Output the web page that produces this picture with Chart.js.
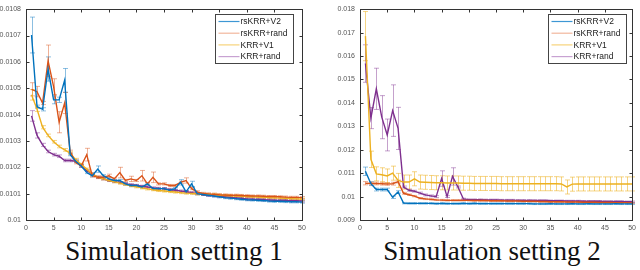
<!DOCTYPE html>
<html>
<head>
<meta charset="utf-8">
<script src="https://cdn.jsdelivr.net/npm/chart.js@4.4.1/dist/chart.umd.min.js"></script>
<style>
  html, body { margin: 0; padding: 0; background: #fff; }
  #wrap { position: relative; width: 640px; height: 270px; overflow: hidden; }
  .panel { position: absolute; top: 0; width: 320px; height: 232px; }
  .caption { position: absolute; top: 236px; font-family: "Liberation Serif", "Times New Roman", serif;
             font-size: 27px; color: #111; white-space: nowrap; transform: translateX(-50%); }
</style>
</head>
<body>
<div id="wrap">
  <div class="panel" style="left:0"><canvas id="c1" width="320" height="232"></canvas></div>
  <div class="panel" style="left:320px"><canvas id="c2" width="320" height="232"></canvas></div>
  <div class="caption" style="left:174px">Simulation setting 1</div>
  <div class="caption" style="left:492px">Simulation setting 2</div>
</div>
<script>
// Eje x común: número de iteración 1..50
const iters = Array.from({ length: 50 }, (_, i) => i + 1);
const xTicks = [0, 5, 10, 15, 20, 25, 30, 35, 40, 45, 50];
const seriesNames = ["rsKRR+V2", "rsKRR+rand", "KRR+V1", "KRR+rand"];

// ---- Simulation setting 1 ----
const yTicks1 = [0.01, 0.0101, 0.0102, 0.0103, 0.0104, 0.0105, 0.0106, 0.0107, 0.0108];
const yLabels1 = ["0.01", "0.0101", "0.0102", "0.0103", "0.0104", "0.0105", "0.0106", "0.0107", "0.0108"];

const rsV2_1 = [0.010702, 0.010430, 0.010420, 0.010573, 0.010456, 0.010456, 0.010530, 0.010248, 0.010223, 0.010205,
  0.010180, 0.010168, 0.010193, 0.010168, 0.010156, 0.010150, 0.010150, 0.010137, 0.010131, 0.010131,
  0.010125, 0.010137, 0.010119, 0.010119, 0.010119, 0.010113, 0.010119, 0.010143, 0.010107, 0.010137,
  0.010100, 0.010097, 0.010094, 0.010091, 0.010088, 0.010085, 0.010083, 0.010081, 0.010079, 0.010077,
  0.010076, 0.010075, 0.010074, 0.010072, 0.010071, 0.010071, 0.010070, 0.010069, 0.010069, 0.010068];
const rsRand_1 = [0.010496, 0.010487, 0.010444, 0.010604, 0.010506, 0.010371, 0.010444, 0.010260, 0.010218, 0.010205,
  0.010248, 0.010168, 0.010162, 0.010162, 0.010168, 0.010156, 0.010180, 0.010150, 0.010156, 0.010150,
  0.010168, 0.010137, 0.010162, 0.010137, 0.010137, 0.010131, 0.010131, 0.010143, 0.010150, 0.010119,
  0.010107, 0.010101, 0.010099, 0.010098, 0.010096, 0.010095, 0.010094, 0.010094, 0.010093, 0.010092,
  0.010091, 0.010091, 0.010090, 0.010089, 0.010089, 0.010088, 0.010087, 0.010086, 0.010086, 0.010085];
const krrV1_1 = [0.010475, 0.010420, 0.010352, 0.010321, 0.010297, 0.010279, 0.010266, 0.010254, 0.010229, 0.010211,
  0.010193, 0.010175, 0.010162, 0.010156, 0.010150, 0.010145, 0.010140, 0.010135, 0.010130, 0.010126,
  0.010122, 0.010118, 0.010115, 0.010112, 0.010110, 0.010108, 0.010106, 0.010104, 0.010102, 0.010101,
  0.010099, 0.010098, 0.010097, 0.010096, 0.010094, 0.010093, 0.010092, 0.010091, 0.010090, 0.010089,
  0.010088, 0.010087, 0.010086, 0.010085, 0.010084, 0.010083, 0.010082, 0.010081, 0.010080, 0.010079];
const krrRand_1 = [0.010395, 0.010321, 0.010285, 0.010260, 0.010248, 0.010242, 0.010226, 0.010226, 0.010223, 0.010205,
  0.010187, 0.010175, 0.010162, 0.010156, 0.010150, 0.010146, 0.010142, 0.010138, 0.010134, 0.010131,
  0.010128, 0.010125, 0.010122, 0.010120, 0.010119, 0.010116, 0.010113, 0.010110, 0.010108, 0.010104,
  0.010100, 0.010097, 0.010094, 0.010092, 0.010090, 0.010088, 0.010086, 0.010084, 0.010082, 0.010080,
  0.010079, 0.010078, 0.010077, 0.010076, 0.010075, 0.010074, 0.010074, 0.010073, 0.010073, 0.010072];

// semianchos de las barras de error
const rsV2Err_1 = [0.000068, 0.000006, 0.000006, 0.000046, 0.000015, 0.000010, 0.000045, 0.000004, 0.000004, 0.000004,
  0.000004, 0.000004, 0.000012, 0.000004, 0.000004, 0.000004, 0.000004, 0.000004, 0.000004, 0.000004,
  0.000004, 0.000004, 0.000004, 0.000004, 0.000004, 0.000004, 0.000004, 0.000010, 0.000004, 0.000010,
  0.000004, 0.000004, 0.000004, 0.000004, 0.000004, 0.000004, 0.000004, 0.000004, 0.000004, 0.000004,
  0.000004, 0.000004, 0.000004, 0.000004, 0.000004, 0.000004, 0.000004, 0.000004, 0.000004, 0.000004];
const rsRandErr_1 = [0.000025, 0.000020, 0.000006, 0.000060, 0.000030, 0.000040, 0.000040, 0.000005, 0.000005, 0.000005,
  0.000024, 0.000005, 0.000005, 0.000005, 0.000006, 0.000004, 0.000020, 0.000004, 0.000010, 0.000004,
  0.000020, 0.000004, 0.000020, 0.000004, 0.000004, 0.000004, 0.000004, 0.000004, 0.000010, 0.000004,
  0.000004, 0.000004, 0.000004, 0.000004, 0.000004, 0.000004, 0.000004, 0.000004, 0.000004, 0.000004,
  0.000004, 0.000004, 0.000004, 0.000004, 0.000004, 0.000004, 0.000004, 0.000004, 0.000004, 0.000004];
const krrV1Err_1 = [0.000020, 0.000008, 0.000006, 0.000005, 0.000005, 0.000005, 0.000005, 0.000005, 0.000005, 0.000004,
  0.000004, 0.000004, 0.000004, 0.000004, 0.000004, 0.000004, 0.000004, 0.000004, 0.000004, 0.000004,
  0.000004, 0.000004, 0.000004, 0.000004, 0.000004, 0.000004, 0.000004, 0.000004, 0.000004, 0.000004,
  0.000004, 0.000004, 0.000004, 0.000004, 0.000004, 0.000004, 0.000004, 0.000004, 0.000004, 0.000004,
  0.000004, 0.000004, 0.000004, 0.000004, 0.000004, 0.000004, 0.000004, 0.000004, 0.000004, 0.000004];
const krrRandErr_1 = [0.000020, 0.000010, 0.000006, 0.000005, 0.000005, 0.000005, 0.000005, 0.000005, 0.000005, 0.000004,
  0.000004, 0.000004, 0.000004, 0.000004, 0.000004, 0.000004, 0.000004, 0.000004, 0.000004, 0.000004,
  0.000004, 0.000004, 0.000004, 0.000004, 0.000004, 0.000004, 0.000004, 0.000004, 0.000004, 0.000004,
  0.000004, 0.000004, 0.000004, 0.000004, 0.000004, 0.000004, 0.000004, 0.000004, 0.000004, 0.000004,
  0.000004, 0.000004, 0.000004, 0.000004, 0.000004, 0.000004, 0.000004, 0.000004, 0.000004, 0.000004];

// ---- Simulation setting 2 ----
const yTicks2 = [0.009, 0.010, 0.011, 0.012, 0.013, 0.014, 0.015, 0.016, 0.017, 0.018];
const yLabels2 = ["0.009", "0.01", "0.011", "0.012", "0.013", "0.014", "0.015", "0.016", "0.017", "0.018"];

const rsV2_2 = [0.01108, 0.01055, 0.01030, 0.01030, 0.01030, 0.00997, 0.01020, 0.00972, 0.00971, 0.00971,
  0.00971, 0.00971, 0.00971, 0.00970, 0.00971, 0.00970, 0.00970, 0.00970, 0.00971, 0.00970,
  0.00971, 0.00970, 0.00970, 0.00970, 0.00970, 0.00970, 0.00970, 0.00970, 0.00970, 0.00970,
  0.00970, 0.00969, 0.00969, 0.00969, 0.00970, 0.00969, 0.00969, 0.00969, 0.00970, 0.00969,
  0.00969, 0.00970, 0.00969, 0.00969, 0.00969, 0.00969, 0.00970, 0.00969, 0.00969, 0.00969];
const rsRand_2 = [0.01057, 0.01056, 0.01056, 0.01055, 0.01054, 0.01055, 0.01064, 0.01014, 0.01008, 0.01002,
  0.00993, 0.00990, 0.00988, 0.00986, 0.00985, 0.00984, 0.00984, 0.00984, 0.00984, 0.00984,
  0.00983, 0.00983, 0.00983, 0.00982, 0.00982, 0.00982, 0.00981, 0.00981, 0.00981, 0.00980,
  0.00980, 0.00980, 0.00979, 0.00979, 0.00978, 0.00978, 0.00978, 0.00977, 0.00977, 0.00977,
  0.00976, 0.00976, 0.00976, 0.00975, 0.00975, 0.00975, 0.00974, 0.00974, 0.00974, 0.00973];
const krrV1_2 = [0.01685, 0.01159, 0.01097, 0.01093, 0.01088, 0.01100, 0.01069, 0.01062, 0.01062, 0.01076,
  0.01062, 0.01061, 0.01060, 0.01059, 0.01059, 0.01058, 0.01058, 0.01058, 0.01057, 0.01057,
  0.01056, 0.01056, 0.01056, 0.01056, 0.01056, 0.01055, 0.01055, 0.01055, 0.01055, 0.01055,
  0.01055, 0.01055, 0.01055, 0.01055, 0.01055, 0.01055, 0.01054, 0.01041, 0.01053, 0.01054,
  0.01054, 0.01054, 0.01054, 0.01054, 0.01054, 0.01054, 0.01054, 0.01054, 0.01054, 0.01054];
const krrRand_2 = [0.01568, 0.01335, 0.01460, 0.01339, 0.01263, 0.01367, 0.01291, 0.01041, 0.01027, 0.01023,
  0.01015, 0.01007, 0.01003, 0.01000, 0.01077, 0.01000, 0.01086, 0.01041, 0.00990, 0.00987,
  0.00987, 0.00987, 0.00986, 0.00986, 0.00986, 0.00985, 0.00985, 0.00985, 0.00984, 0.00984,
  0.00984, 0.00983, 0.00983, 0.00983, 0.00982, 0.00982, 0.00982, 0.00981, 0.00981, 0.00981,
  0.00980, 0.00980, 0.00980, 0.00980, 0.00979, 0.00979, 0.00979, 0.00979, 0.00978, 0.00978];

const rsV2Err_2 = [0.00018, 0.00008, 0.00006, 0.00006, 0.00006, 0.00005, 0.00005, 0.00003, 0.00003, 0.00003,
  0.00003, 0.00003, 0.00003, 0.00003, 0.00003, 0.00003, 0.00003, 0.00003, 0.00003, 0.00003,
  0.00003, 0.00003, 0.00003, 0.00003, 0.00003, 0.00003, 0.00003, 0.00003, 0.00003, 0.00003,
  0.00003, 0.00003, 0.00003, 0.00003, 0.00003, 0.00003, 0.00003, 0.00003, 0.00003, 0.00003,
  0.00003, 0.00003, 0.00003, 0.00003, 0.00003, 0.00003, 0.00003, 0.00003, 0.00003, 0.00003];
const rsRandErr_2 = [0.00007, 0.00006, 0.00006, 0.00006, 0.00006, 0.00006, 0.00006, 0.00004, 0.00003, 0.00003,
  0.00003, 0.00003, 0.00003, 0.00003, 0.00003, 0.00003, 0.00003, 0.00003, 0.00003, 0.00003,
  0.00003, 0.00003, 0.00003, 0.00003, 0.00003, 0.00003, 0.00003, 0.00003, 0.00003, 0.00003,
  0.00003, 0.00003, 0.00003, 0.00003, 0.00003, 0.00003, 0.00003, 0.00003, 0.00003, 0.00003,
  0.00003, 0.00003, 0.00003, 0.00003, 0.00003, 0.00003, 0.00003, 0.00003, 0.00003, 0.00003];
const krrV1Err_2 = [0.00105, 0.00035, 0.00030, 0.00030, 0.00030, 0.00030, 0.00030, 0.00030, 0.00030, 0.00030,
  0.00030, 0.00030, 0.00030, 0.00030, 0.00030, 0.00030, 0.00030, 0.00030, 0.00030, 0.00030,
  0.00030, 0.00030, 0.00030, 0.00030, 0.00030, 0.00030, 0.00030, 0.00030, 0.00030, 0.00030,
  0.00030, 0.00030, 0.00030, 0.00030, 0.00030, 0.00030, 0.00030, 0.00030, 0.00030, 0.00030,
  0.00030, 0.00030, 0.00030, 0.00030, 0.00030, 0.00030, 0.00030, 0.00030, 0.00030, 0.00030];
const krrRandErr_2 = [0.00080, 0.00045, 0.00088, 0.00092, 0.00068, 0.00110, 0.00090, 0.00004, 0.00004, 0.00004,
  0.00004, 0.00004, 0.00004, 0.00004, 0.00033, 0.00004, 0.00037, 0.00004, 0.00003, 0.00003,
  0.00003, 0.00003, 0.00003, 0.00003, 0.00003, 0.00003, 0.00003, 0.00003, 0.00003, 0.00003,
  0.00003, 0.00003, 0.00003, 0.00003, 0.00003, 0.00003, 0.00003, 0.00003, 0.00003, 0.00003,
  0.00003, 0.00003, 0.00003, 0.00003, 0.00003, 0.00003, 0.00003, 0.00003, 0.00003, 0.00003];

// colores por defecto de MATLAB
const lineColors = ["#0072BD", "#D95319", "#EDB120", "#7E2F8E"];
const errColors = ["rgba(0,114,189,0.45)", "rgba(217,83,25,0.45)", "rgba(237,177,32,0.55)", "rgba(126,47,142,0.45)"];
const legendColors = ["#3d97d4", "#f2b79c", "#f6d37a", "#c8a2d2"];

// barras de error, marco con marcas hacia dentro y leyenda con recuadro
const matlabPlugin = {
  id: "matlabLook",
  beforeDatasetsDraw(chart) {
    const { ctx } = chart;
    const xs = chart.scales.x, ys = chart.scales.y;
    ctx.save();
    chart.data.datasets.forEach((ds, k) => {
      ctx.strokeStyle = errColors[k];
      ctx.lineWidth = 1;
      ds.data.forEach((p, i) => {
        const e = ds.errors[i];
        const px = Math.round(xs.getPixelForValue(p.x)) + 0.5;
        const y1 = ys.getPixelForValue(p.y + e), y2 = ys.getPixelForValue(p.y - e);
        ctx.beginPath();
        ctx.moveTo(px, y1); ctx.lineTo(px, y2);
        ctx.moveTo(px - 2.5, y1); ctx.lineTo(px + 2.5, y1);
        ctx.moveTo(px - 2.5, y2); ctx.lineTo(px + 2.5, y2);
        ctx.stroke();
      });
    });
    ctx.restore();
  },
  afterDraw(chart, args, opts) {
    const { ctx, chartArea: a } = chart;
    const xs = chart.scales.x, ys = chart.scales.y;
    ctx.save();
    ctx.strokeStyle = "#333";
    ctx.lineWidth = 1;
    const L = Math.round(a.left) + 0.5, R = Math.round(a.right) + 0.5;
    const T = Math.round(a.top) + 0.5, B = Math.round(a.bottom) + 0.5;
    ctx.strokeRect(L, T, R - L, B - T);
    ctx.beginPath();
    xTicks.forEach(v => {
      const px = Math.round(xs.getPixelForValue(v)) + 0.5;
      ctx.moveTo(px, B); ctx.lineTo(px, B - 3);
      ctx.moveTo(px, T); ctx.lineTo(px, T + 3);
    });
    opts.yTicks.forEach(v => {
      const py = Math.round(ys.getPixelForValue(v)) + 0.5;
      ctx.moveTo(L, py); ctx.lineTo(L + 3, py);
      ctx.moveTo(R, py); ctx.lineTo(R - 3, py);
    });
    ctx.stroke();

    // leyenda
    const bw = 78, bh = 49;
    const bx = Math.round(a.right - opts.legendGap - bw) + 0.5, by = Math.round(a.top + 5) + 0.5;
    ctx.fillStyle = "#fff";
    ctx.fillRect(bx, by, bw, bh);
    ctx.strokeStyle = "#444";
    ctx.strokeRect(bx, by, bw, bh);
    ctx.font = "8.5px 'Liberation Sans', Arial, sans-serif";
    ctx.textBaseline = "middle";
    ctx.fillStyle = "#222";
    seriesNames.forEach((name, k) => {
      const ly = by + 7 + k * 11.7;
      ctx.strokeStyle = legendColors[k];
      ctx.lineWidth = 1.2;
      ctx.beginPath();
      ctx.moveTo(bx + 3, ly); ctx.lineTo(bx + 24, ly);
      ctx.stroke();
      ctx.fillText(name, bx + 25, ly + 0.5);
    });
    ctx.restore();
  }
};

function makeChart(id, series, errors, yTicks, yLabels, yWidth, padRight, legendGap) {
  const datasets = series.map((vals, k) => ({
    label: seriesNames[k],
    data: iters.map((x, i) => ({ x: x, y: vals[i] })),
    errors: errors[k],
    borderColor: lineColors[k],
    borderWidth: 1.4,
    pointRadius: 0,
    fill: false,
    tension: 0
  }));
  return new Chart(document.getElementById(id), {
    type: "line",
    data: { datasets: datasets },
    plugins: [matlabPlugin],
    options: {
      responsive: false,
      animation: false,
      devicePixelRatio: 1,
      layout: { padding: { top: 4, right: padRight, left: 0, bottom: 0 } },
      plugins: {
        legend: { display: false },
        tooltip: { enabled: false },
        matlabLook: { yTicks: yTicks, legendGap: legendGap }
      },
      scales: {
        x: {
          type: "linear", min: 0, max: 50,
          afterBuildTicks: s => { s.ticks = xTicks.map(v => ({ value: v })); },
          afterFit: s => { s.height = 12; },
          grid: { display: false, drawTicks: false },
          border: { display: false },
          ticks: { font: { size: 7, family: "'Liberation Sans', Arial" }, color: "#555", padding: 4, maxRotation: 0, autoSkip: false,
                   callback: v => String(v) }
        },
        y: {
          min: yTicks[0], max: yTicks[yTicks.length - 1],
          afterBuildTicks: s => { s.ticks = yTicks.map(v => ({ value: v })); },
          afterFit: s => { s.width = yWidth; },
          grid: { display: false, drawTicks: false },
          border: { display: false },
          ticks: { font: { size: 7, family: "'Liberation Sans', Arial" }, color: "#555", padding: 5, autoSkip: false,
                   callback: (v, i) => yLabels[i] }
        }
      }
    }
  });
}

makeChart("c1", [rsV2_1, rsRand_1, krrV1_1, krrRand_1], [rsV2Err_1, rsRandErr_1, krrV1Err_1, krrRandErr_1],
  yTicks1, yLabels1, 26, 18, 9);
makeChart("c2", [rsV2_2, rsRand_2, krrV1_2, krrRand_2], [rsV2Err_2, rsRandErr_2, krrV1Err_2, krrRandErr_2],
  yTicks2, yLabels2, 40, 4, 6);
</script>
</body>
</html>
